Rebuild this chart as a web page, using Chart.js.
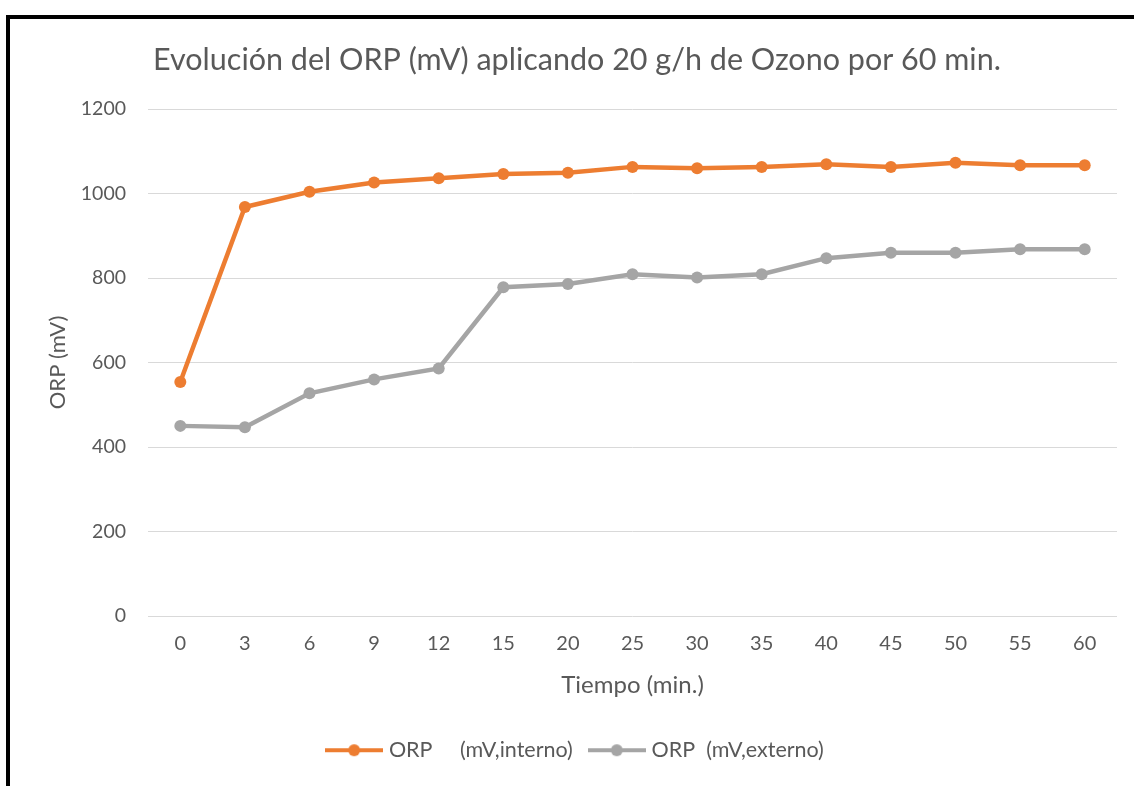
<!DOCTYPE html>
<html>
<head>
<meta charset="utf-8">
<title>ORP</title>
<script src="https://cdn.jsdelivr.net/npm/chart.js@4.4.1/dist/chart.umd.min.js"></script>
<style>
  html, body { margin: 0; padding: 0; background: #fff; }
  #wrap { position: relative; width: 1134px; height: 786px; overflow: hidden; }
  #frame {
    position: absolute; left: 6px; top: 15px; width: 1200px; height: 900px;
    border-left: 4px solid #000; border-top: 4px solid #000;
  }
  #orpChart { position: absolute; left: 0; top: 0; }
</style>
</head>
<body>
<div id="wrap">
  <div id="frame"></div>
  <canvas id="orpChart" width="1134" height="786"></canvas>
</div>
<script>
const tiempos = ["0", "3", "6", "9", "12", "15", "20", "25", "30", "35", "40", "45", "50", "55", "60"];
const orpInterno = [554, 968, 1004, 1026, 1036, 1046, 1049, 1063, 1060, 1063, 1069, 1063, 1073, 1067, 1067];
const orpExterno = [450, 447, 527, 560, 586, 778, 786, 809, 801, 809, 847, 860, 860, 868, 868];
const serieNombres = ["ORP     (mV,interno)", "ORP  (mV,externo)"];
const serieColores = ["#ED7D31", "#A5A5A5"];

const textColor = "#595959";
const fontFamily = "Lato, 'Open Sans', sans-serif";

// little line + dot marker for the legend (a bit wider than the box so the gap to the text is small)
function legendMarker(color) {
  const c = document.createElement("canvas");
  c.width = 58;
  c.height = 14;
  const ctx = c.getContext("2d");
  ctx.strokeStyle = color;
  ctx.lineWidth = 4;
  ctx.beginPath();
  ctx.moveTo(0, 7);
  ctx.lineTo(58, 7);
  ctx.stroke();
  ctx.fillStyle = color;
  ctx.beginPath();
  ctx.arc(29, 7, 6, 0, Math.PI * 2);
  ctx.fill();
  return c;
}

const markers = serieColores.map(legendMarker);

function makeDataset(label, data, color) {
  return {
    label: label,
    data: data,
    borderColor: color,
    backgroundColor: color,
    borderWidth: 4.5,
    pointRadius: 6,
    pointBorderWidth: 0,
    pointBackgroundColor: color,
    tension: 0,
  };
}

const chart = new Chart(document.getElementById("orpChart"), {
  type: "line",
  data: {
    labels: tiempos,
    datasets: [
      makeDataset(serieNombres[0], orpInterno, serieColores[0]),
      makeDataset(serieNombres[1], orpExterno, serieColores[1]),
    ],
  },
  options: {
    responsive: false,
    animation: false,
    devicePixelRatio: 1,
    layout: {
      padding: { top: 0, left: 37, right: 17, bottom: 15 },
    },
    plugins: {
      title: {
        display: true,
        text: "Evolución del ORP (mV) aplicando 20 g/h de Ozono por 60 min.",
        color: textColor,
        font: { family: fontFamily, size: 30.5, weight: "normal", lineHeight: 1.2 },
        padding: { top: 41.5, bottom: 30.9 },
      },
      legend: {
        position: "bottom",
        labels: {
          color: textColor,
          font: { family: fontFamily, size: 21.5 },
          usePointStyle: true,
          pointStyleWidth: 48,
          padding: 20,
          generateLabels: (chart) =>
            Chart.defaults.plugins.legend.labels
              .generateLabels(chart)
              .map((item, i) => ({ ...item, pointStyle: markers[i] })),
        },
      },
      tooltip: { enabled: false },
    },
    scales: {
      x: {
        offset: true,
        grid: { display: false, drawTicks: false },
        border: { display: false },
        ticks: {
          color: textColor,
          font: { family: fontFamily, size: 20 },
          padding: 16,
          maxRotation: 0,
        },
        title: {
          display: true,
          text: "Tiempo (min.)",
          color: textColor,
          font: { family: fontFamily, size: 24 },
          padding: { top: 0, bottom: 20 },
        },
        afterFit: (scale) => {
          scale.height = 103.5;
        },
      },
      y: {
        min: 0,
        max: 1200,
        grid: { color: "#D9D9D9", lineWidth: 1, drawTicks: false },
        border: { display: false },
        ticks: {
          stepSize: 200,
          color: textColor,
          font: { family: fontFamily, size: 19.5 },
          padding: 22,
          callback: (value) => String(value),
        },
        title: {
          display: true,
          text: "ORP (mV)",
          color: textColor,
          font: { family: fontFamily, size: 22 },
          padding: { top: 7.8, bottom: 0 },
        },
        afterFit: (scale) => {
          scale.width = 111;
        },
      },
    },
  },
});
</script>
</body>
</html>
